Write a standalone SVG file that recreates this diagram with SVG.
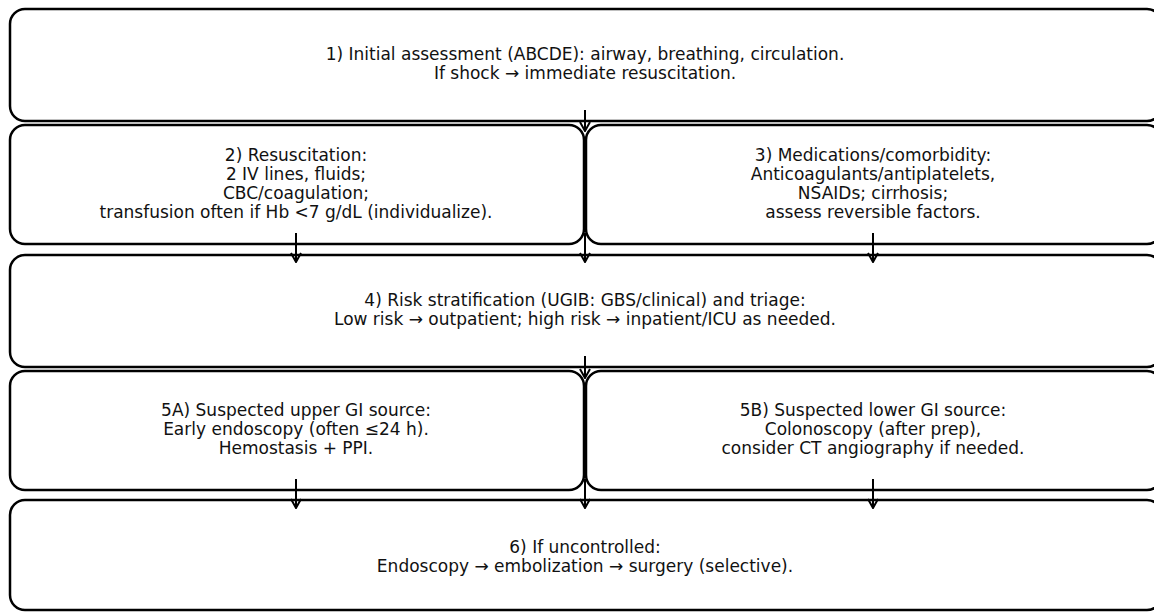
<svg xmlns="http://www.w3.org/2000/svg" width="1154" height="612" viewBox="0 0 1154 612">
<defs>
<style>
.box{fill:#fff;stroke:#000;stroke-width:2.5}
.t{font-family:"DejaVu Sans",sans-serif;font-size:17px;fill:#111;text-anchor:middle}
.c{stroke:#000;stroke-width:2;fill:none}
</style>
<marker id="ah" viewBox="0 0 12 12" refX="11" refY="6" markerWidth="12" markerHeight="12" markerUnits="userSpaceOnUse" orient="auto">
<path d="M2,1 L11,6 L2,11" fill="none" stroke="#000" stroke-width="2"/>
</marker>
</defs>
<rect width="1154" height="612" fill="#fff"/>
<g id="n1"><rect class="box" x="10" y="9" width="1152" height="112" rx="15"/>
<text class="t" x="585" y="60">1) Initial assessment (ABCDE): airway, breathing, circulation.</text>
<text class="t" x="585" y="79">If shock → immediate resuscitation.</text></g>
<g id="n2"><rect class="box" x="10" y="125" width="574" height="119" rx="15"/>
<text class="t" x="296" y="161">2) Resuscitation:</text>
<text class="t" x="296" y="180">2 IV lines, fluids;</text>
<text class="t" x="296" y="199">CBC/coagulation;</text>
<text class="t" x="296" y="218">transfusion often if Hb &lt;7 g/dL (individualize).</text></g>
<g id="n3"><rect class="box" x="586" y="125" width="576" height="119" rx="15"/>
<text class="t" x="873" y="161">3) Medications/comorbidity:</text>
<text class="t" x="873" y="180">Anticoagulants/antiplatelets,</text>
<text class="t" x="873" y="199">NSAIDs; cirrhosis;</text>
<text class="t" x="873" y="218">assess reversible factors.</text></g>
<g id="n4"><rect class="box" x="10" y="255" width="1152" height="112" rx="15"/>
<text class="t" x="585" y="306">4) Risk stratification (UGIB: GBS/clinical) and triage:</text>
<text class="t" x="585" y="325">Low risk → outpatient; high risk → inpatient/ICU as needed.</text></g>
<g id="n5a"><rect class="box" x="10" y="371" width="574" height="119" rx="15"/>
<text class="t" x="296" y="416">5A) Suspected upper GI source:</text>
<text class="t" x="296" y="435">Early endoscopy (often ≤24 h).</text>
<text class="t" x="296" y="454">Hemostasis + PPI.</text></g>
<g id="n5b"><rect class="box" x="586" y="371" width="576" height="119" rx="15"/>
<text class="t" x="873" y="416">5B) Suspected lower GI source:</text>
<text class="t" x="873" y="435">Colonoscopy (after prep),</text>
<text class="t" x="873" y="454">consider CT angiography if needed.</text></g>
<g id="n6"><rect class="box" x="10" y="500" width="1152" height="110" rx="15"/>
<text class="t" x="585" y="553">6) If uncontrolled:</text>
<text class="t" x="585" y="572">Endoscopy → embolization → surgery (selective).</text></g>
<g id="connectors">
<line class="c" x1="585" y1="110" x2="585" y2="131" marker-end="url(#ah)"/>
<line class="c" x1="296" y1="233" x2="296" y2="262" marker-end="url(#ah)"/>
<line class="c" x1="585" y1="233" x2="585" y2="262" marker-end="url(#ah)"/>
<line class="c" x1="873" y1="233" x2="873" y2="262" marker-end="url(#ah)"/>
<line class="c" x1="585" y1="356" x2="585" y2="378" marker-end="url(#ah)"/>
<line class="c" x1="296" y1="479" x2="296" y2="508" marker-end="url(#ah)"/>
<line class="c" x1="585" y1="479" x2="585" y2="508" marker-end="url(#ah)"/>
<line class="c" x1="873" y1="479" x2="873" y2="508" marker-end="url(#ah)"/>
</g>
</svg>
